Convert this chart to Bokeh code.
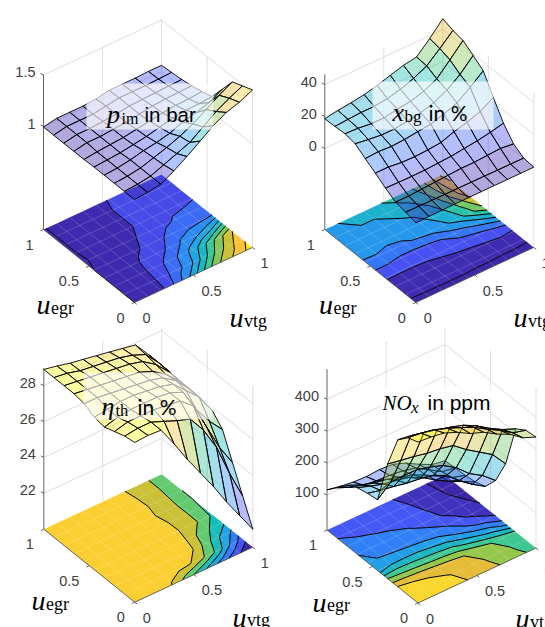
from bokeh.plotting import figure
from bokeh.models import Range1d
from bokeh.embed import file_html
from bokeh.resources import INLINE
import numpy as np

# ---- data: rows = u_egr 0..1, columns = u_vtg 0..1 ----
PIM = [
 [1.00,1.01,1.03,1.10,1.18,1.27,1.36,1.43,1.47,1.53],
 [1.00,1.01,1.03,1.08,1.13,1.18,1.27,1.36,1.43,1.49],
 [1.00,1.01,1.03,1.07,1.11,1.16,1.22,1.30,1.38,1.45],
 [1.00,1.01,1.03,1.06,1.08,1.11,1.16,1.19,1.23,1.30],
 [1.00,1.01,1.02,1.04,1.06,1.09,1.12,1.135,1.14,1.15],
 [0.995,1.01,1.02,1.03,1.05,1.07,1.09,1.105,1.11,1.12],
 [0.995,1.02,1.02,1.03,1.04,1.06,1.08,1.09,1.093,1.098],
 [0.995,1.02,1.02,1.03,1.04,1.06,1.065,1.07,1.075,1.08],
 [0.995,1.02,1.02,1.02,1.04,1.06,1.06,1.06,1.065,1.07],
 [0.995,1.02,1.02,1.02,1.03,1.055,1.055,1.055,1.06,1.06],
]
XBG = [
 [-0.8,-0.6,-0.5,-0.4,-0.4,-0.4,-0.4,-0.4,-0.4,-0.4],
 [0.8,0.7,0.6,0.5,0.5,0.4,0.4,0.3,0.3,0.2],
 [2.0,2.0,2.5,3.0,3.5,4.0,4.0,4.5,5.0,4.0],
 [5.7,5.5,5.4,5.5,6.0,6.5,7.5,8.5,10.0,11.9],
 [10.0,10.0,9.0,8.8,9.2,10.0,13.0,15.0,18.0,22.9],
 [14.0,14.5,14.0,14.5,15.5,16.5,19.0,22.0,28.0,34.5],
 [18.2,17.0,16.0,16.0,17.0,18.5,21.0,25.0,31.0,39.0],
 [19.4,19.0,18.0,18.0,19.5,20.5,23.0,27.0,35.0,43.3],
 [18.9,19.5,20.0,20.0,21.0,23.0,26.0,30.0,37.0,44.5],
 [18.6,20.0,21.0,22.2,24.2,26.7,29.1,30.5,38.2,46.8],
]
ETA = [
 [28.9,28.95,28.9,27.8,26.6,25.5,24.4,23.2,22.1,21.0],
 [28.8,28.9,28.9,28.6,28.3,28.05,27.1,25.8,24.0,22.4],
 [28.6,28.8,28.8,28.8,28.7,28.6,28.0,26.5,25.0,23.8],
 [28.4,28.6,28.7,28.7,28.7,28.6,28.3,27.0,26.0,25.2],
 [28.5,28.6,28.7,28.7,28.6,28.5,28.3,27.6,26.9,25.8],
 [28.8,28.8,28.7,28.6,28.5,28.4,28.2,27.7,26.9,25.9],
 [28.9,28.8,28.7,28.6,28.5,28.4,28.1,27.6,26.9,26.0],
 [28.9,28.8,28.7,28.6,28.5,28.4,28.2,27.7,26.95,26.0],
 [28.9,28.8,28.6,28.5,28.4,28.3,28.1,27.8,27.0,26.05],
 [28.9,28.75,28.57,28.44,28.3,28.17,28.03,27.88,27.0,26.07],
]
NOX = [
 [495,492,485,468,445,430,405,385,355,338],
 [483,478,470,455,438,420,395,372,345,334],
 [451,445,436,425,414,401,380,353,330,313],
 [350,342,335,326,321,312,280,253,226,178],
 [212,248,250,249,238,224,198,160,135,100],
 [207,197,190,181,176,167,148,113,82,56],
 [199,185,172,165,155,135,108,85,65,45],
 [181,163,150,142,130,118,98,75,52,40],
 [148,130,118,112,110,105,95,70,45,38],
 [116,108,102,100,103,100,85,62,42,35],
]
PIM_LEVELS = [1.0,1.05,1.1,1.15,1.2,1.25,1.3,1.35,1.4,1.45,1.5]
XBG_LEVELS = [0,5,10,15,20,25,30,35,40,45]
ETA_LEVELS = [21,22,23,24,25,26,27,28,29]
NOX_LEVELS = [50,100,150,200,250,300,350,400,450]
PIM_TICKS, PIM_TICKLABELS = [1,1.5], ["1","1.5"]
XBG_TICKS, XBG_TICKLABELS = [0,20,40], ["0","20","40"]
ETA_TICKS, ETA_TICKLABELS = [22,24,26,28], ["22","24","26","28"]
NOX_TICKS, NOX_TICKLABELS = [100,200,300,400], ["100","200","300","400"]
U_TICKS, U_TICKLABELS = [0,0.5,1], ["0","0.5","1"]

PARULA = np.array([
 [.2422,.1504,.6603],[.2810,.3228,.9579],[.1786,.5289,.9682],[.1248,.6459,.8883],
 [.0964,.7500,.7120],[.2906,.7973,.5188],[.6720,.7793,.2227],[.9393,.7288,.2100],
 [.9970,.7659,.2199],[.9676,.8709,.1590],[.9769,.9839,.0805]])
POS = np.array([0,.127,.27,.38,.51,.60,.71,.81,.85,.92,1.0])

def parula(t):
    t = min(max(t,0),1)
    c = [np.interp(t,POS,PARULA[:,k]) for k in range(3)]
    return "#%02x%02x%02x" % tuple(int(round(v*255)) for v in c)

p = figure(width=545,height=627,x_range=Range1d(0,545),y_range=Range1d(627,0),
           output_backend="svg",toolbar_location=None,min_border=0)
p.axis.visible=False; p.grid.visible=False; p.outline_line_color=None
p.background_fill_color="white"; p.border_fill_color="white"

EV=(118.0,-55.0); EE=(-91.0,-73.0)
GRID="#dedede"; AX="#404040"; SANS="Liberation Sans"; SERIF="Liberation Serif"

def draw(Z,levels,ticks,ticklabels,ox,oy,zb,scale,ztop,tx,ymin=0):
    Z=np.array(Z,float); n=Z.shape[0]
    u=np.linspace(0,1,n)
    V,E=np.meshgrid(u,u)
    def pr(v,e,z):
        v,e,z=np.asarray(v,float),np.asarray(e,float),np.asarray(z,float)
        return ox+EV[0]*v+EE[0]*e, oy+EV[1]*v+EE[1]*e-(z-zb)*scale
    # walls
    sx0,sy0,sx1,sy1=[],[],[],[]
    def seg(a,b):
        sx0.append(float(a[0]));sy0.append(float(a[1]));sx1.append(float(b[0]));sy1.append(float(b[1]))
    for v in [0.5,1]:
        a=pr(v,1,zb); b=pr(v,1,ztop); seg(a,(b[0],max(b[1],ymin)))
    for e in [0,0.5]:
        a=pr(1,e,zb); b=pr(1,e,ztop); seg(a,(b[0],max(b[1],ymin)))
    for t in ticks:
        seg(pr(0,1,t),pr(1,1,t)); seg(pr(1,1,t),pr(1,0,t))
    p.segment(sx0,sy0,sx1,sy1,line_color=GRID,line_width=1)
    # floor
    zmin,zmax=Z.min(),Z.max()
    X,Y=pr(V,E,zb)
    lv=[l for l in levels if zmin<l<zmax]
    full=[zmin-1e-6]+lv+[zmax+1e-6]
    cols=[parula((l-zmin)/(zmax-zmin)) for l in full[:-1]]
    p.contour(X,Y,Z,full,fill_color=cols,line_color=None)
    mx,my=[],[]
    for k in range(n):
        xa,ya=pr(u[k],[0,1],zb); mx.append(list(xa)); my.append(list(ya))
        xa,ya=pr([0,1],u[k],zb); mx.append(list(xa)); my.append(list(ya))
    p.multi_line(mx,my,line_color="white",line_alpha=.22,line_width=.8)
    p.contour(X,Y,Z,lv,line_color="black",line_width=1,fill_color=None)
    # axes
    ax0,ay0,ax1,ay1=[],[],[],[]
    def aseg(a,b):
        ax0.append(float(a[0]));ay0.append(float(a[1]));ax1.append(float(b[0]));ay1.append(float(b[1]))
    aseg(pr(0,1,zb),pr(0,1,ztop)); aseg(pr(0,1,zb),pr(0,0,zb)); aseg(pr(0,0,zb),pr(1,0,zb))
    for t in ticks:
        a=pr(0,1,t); aseg(a,(a[0]-3,a[1]-1.5))
    for t in U_TICKS:
        a=pr(0,t,zb); aseg(a,(a[0]-3,a[1]+1.4))
        a=pr(t,0,zb); aseg(a,(a[0]+2.4,a[1]+1.9))
    p.segment(ax0,ay0,ax1,ay1,line_color=AX,line_width=.8)
    # surface, back to front
    xs,ys,fc=[],[],[]
    for j in range(n-2,-1,-1):
        for i in range(n-2,-1,-1):
            vv=[u[i],u[i+1],u[i+1],u[i]]; ee=[u[j],u[j],u[j+1],u[j+1]]
            zz=[Z[j,i],Z[j,i+1],Z[j+1,i+1],Z[j+1,i]]
            a,b=pr(vv,ee,zz); xs.append(list(a)); ys.append(list(b))
            fc.append(parula((Z[j,i]-zmin)/(zmax-zmin)))
    p.patches(xs,ys,fill_color=fc,fill_alpha=.4,line_color="black",line_width=.9)
    # tick labels
    def lab(x,y,s,al,base="middle",size="14.5px"):
        p.text([float(x)],[float(y)],[s],text_font={"value":SANS},text_font_size=size,text_color=AX,text_align=al,text_baseline=base)
    for t,s in zip(ticks,ticklabels):
        a=pr(0,1,t); lab(a[0]-tx,a[1]-3,s,"right")
    for t,s in zip(U_TICKS,U_TICKLABELS):
        a=pr(0,t,zb); lab(a[0]-10,a[1]+15,s,"right")
        a=pr(t,0,zb); lab(a[0]+8,a[1]+15.5,s,"left")

def txt(x,y,s,font,size,style="normal",color="black"):
    p.text([x],[y],[s],text_font={"value":font},text_font_size=size,text_font_style=style,text_color=color,text_align="left",text_baseline="alphabetic")

def box(l,t,r,b):
    p.quad(left=[l],right=[r],top=[t],bottom=[b],fill_color="white",fill_alpha=.65,line_color=None)

def ulabels(ex,ey,vx,vy):
    txt(ex,ey,"u",SERIF,"28px","italic"); txt(ex+14.5,ey+3,"egr",SERIF,"18px")
    txt(vx,vy,"u",SERIF,"28px","italic"); txt(vx+14.5,vy+3,"vtg",SERIF,"18px")

draw(PIM,PIM_LEVELS,PIM_TICKS,PIM_TICKLABELS,134,302,0,103,1.505,8)
box(86,83,213,129)
txt(106.5,114,"p",SERIF,"26px","italic"); txt(121,118,"im",SERIF,"16px"); txt(144,114,"in bar",SANS,"20.5px")
ulabels(36,304,229,317)

draw(XBG,XBG_LEVELS,XBG_TICKS,XBG_TICKLABELS,415.3,302,-50.6,1.6,46.4,8)
box(372,81,493,129)
txt(392,112,"x",SERIF,"26px","italic"); txt(404,115.5,"bg",SERIF,"17px"); txt(428,112,"in %","Lato","21px")
ulabels(318.5,304,513,317)

draw(ETA,ETA_LEVELS,ETA_TICKS,ETA_TICKLABELS,134.3,601.7,20,17.95,28.97,8,ymin=327)
box(83,372,212,419)
txt(101,406,"\u03b7",SERIF,"26px","italic"); txt(115,410,"th",SERIF,"16.5px"); txt(137,406,"in %","Lato","21px")
ulabels(31,600,232,616.5)

draw(NOX,NOX_LEVELS,NOX_TICKS,NOX_TICKLABELS,417.5,602.5,-10,.3187,495,8,ymin=327)
box(380,385,494,408)
txt(382,402,"NO",SERIF,"21px","italic"); txt(410.5,406.5,"x",SERIF,"17px","italic"); txt(427,402,"in ppm",SANS,"21px")
ulabels(312,601.5,515,618)

open("out.html","w").write(file_html(p,INLINE))
